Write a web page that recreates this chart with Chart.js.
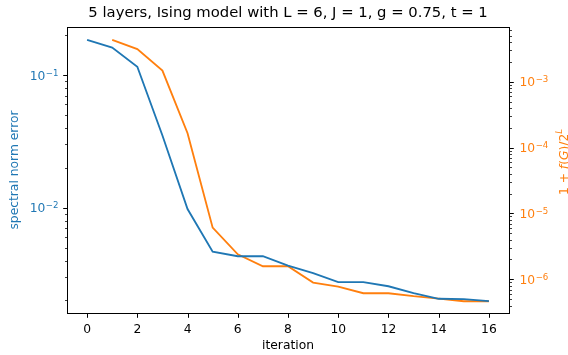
<!DOCTYPE html>
<html>
<head>
<meta charset="utf-8">
<script src="https://cdn.jsdelivr.net/npm/chart.js"></script>
<style>
  html, body { margin: 0; padding: 0; background: #fff; }
</style>
</head>
<body>
<canvas id="chart" width="568" height="355"></canvas>
<script>
const FONT = "'DejaVu Sans', sans-serif";
const BLUE = "#1f77b4";
const ORANGE = "#ff7f0e";

// data
const iterations = [0, 1, 2, 3, 4, 5, 6, 7, 8, 9, 10, 11, 12, 13, 14, 15, 16];
const normError = [0.184, 0.161, 0.1155, 0.035, 0.00977, 0.00466, 0.00431, 0.00431, 0.00366,
                   0.00321, 0.00275, 0.00275, 0.00256, 0.00227, 0.00206, 0.00205, 0.00198];
const fidelityIters = [1, 2, 3, 4, 5, 6, 7, 8, 9, 10, 11, 12, 13, 14, 15, 16];
const fidelity = [4.30e-3, 3.13e-3, 1.47e-3, 1.65e-4, 6.09e-6, 2.40e-6, 1.58e-6, 1.58e-6,
                  8.91e-7, 7.75e-7, 6.15e-7, 6.15e-7, 5.54e-7, 5.10e-7, 4.65e-7, 4.65e-7];

const xTicks = [0, 2, 4, 6, 8, 10, 12, 14, 16];
const leftExponents = [-2, -1];
const rightExponents = [-6, -5, -4, -3];

const TITLE = "5 layers, Ising model with L = 6, J = 1, g = 0.75, t = 1";
const X_TITLE = "iteration";
const LEFT_TITLE = "spectral norm error";

// every 1..9 x 10^e inside the axis range (tick marks only)
function logTickValues(min, max) {
  const out = [];
  for (let e = Math.floor(Math.log10(min)); e <= Math.ceil(Math.log10(max)); e++) {
    for (let m = 1; m <= 9; m++) {
      const v = m * Math.pow(10, e);
      if (v >= min && v <= max) out.push({ v, major: m === 1 });
    }
  }
  return out;
}

function drawPower(ctx, exp, x, y, align, color) {
  const big = "12.3px " + FONT;
  const small = "8.6px " + FONT;
  const sup = "\u2212" + Math.abs(exp);
  ctx.font = big;
  const w1 = ctx.measureText("10").width;
  ctx.font = small;
  const w2 = ctx.measureText(sup).width;
  const x0 = align === "right" ? x - w1 - w2 : x;
  ctx.fillStyle = color;
  ctx.textAlign = "left";
  ctx.textBaseline = "alphabetic";
  ctx.font = big;
  ctx.fillText("10", x0, y + 4.6);
  ctx.font = small;
  ctx.fillText(sup, x0 + w1 + 0.5, y + 0.6);
}

function drawLogAxis(ctx, scale, xEdge, dir, exps, color) {
  ctx.strokeStyle = "#000";
  logTickValues(scale.min, scale.max).forEach(t => {
    const py = Math.round(scale.getPixelForValue(t.v)) + 0.5;
    ctx.lineWidth = t.major ? 1 : 0.75;
    const len = t.major ? 4.3 : 2.5;
    ctx.beginPath();
    ctx.moveTo(xEdge, py);
    ctx.lineTo(xEdge + dir * len, py);
    ctx.stroke();
  });
  exps.forEach(e => {
    const py = scale.getPixelForValue(Math.pow(10, e));
    if (dir < 0) drawPower(ctx, e, xEdge - 9.5, py, "right", color);
    else drawPower(ctx, e, xEdge + 10, py, "left", color);
  });
}

const decorations = {
  id: "decorations",
  afterDraw(chart) {
    const { ctx, chartArea: a, scales } = chart;
    ctx.save();
    const L = Math.round(a.left) + 0.5, R = Math.round(a.right) + 0.5;
    const T = Math.round(a.top) + 0.5, B = Math.round(a.bottom) + 0.5;

    // frame
    ctx.strokeStyle = "#000";
    ctx.lineWidth = 1;
    ctx.strokeRect(L, T, R - L, B - T);

    // x tick marks
    xTicks.forEach(v => {
      const px = Math.round(scales.x.getPixelForValue(v)) + 0.5;
      ctx.beginPath();
      ctx.moveTo(px, B);
      ctx.lineTo(px, B + 4.3);
      ctx.stroke();
    });

    drawLogAxis(ctx, scales.yL, L, -1, leftExponents, BLUE);
    drawLogAxis(ctx, scales.yR, R, 1, rightExponents, ORANGE);

    const cx = (a.left + a.right) / 2;
    ctx.fillStyle = "#000";
    ctx.textAlign = "center";
    ctx.textBaseline = "middle";
    ctx.font = "14.8px " + FONT;
    ctx.fillText(TITLE, cx, 13);

    ctx.font = "12.3px " + FONT;
    ctx.fillText(X_TITLE, cx, 346);

    // left axis title
    ctx.save();
    ctx.translate(15, (a.top + a.bottom) / 2);
    ctx.rotate(-Math.PI / 2);
    ctx.fillStyle = BLUE;
    ctx.fillText(LEFT_TITLE, 0, 0);
    ctx.restore();

    // right axis title: 1 + f(G)/2^L
    const parts = [
      { t: "1 + ", it: false },
      { t: "f", it: true },
      { t: "(", it: false },
      { t: "G", it: true },
      { t: ")/2", it: false },
      { t: "L", it: true, sup: true }
    ];
    const fontOf = p => (p.it ? "italic " : "") + (p.sup ? "8.6px " : "12.3px ") + FONT;
    let total = 0;
    parts.forEach(p => { ctx.font = fontOf(p); p.w = ctx.measureText(p.t).width; total += p.w; });
    ctx.save();
    ctx.translate(563, 162);
    ctx.rotate(-Math.PI / 2);
    ctx.fillStyle = ORANGE;
    ctx.textAlign = "left";
    ctx.textBaseline = "alphabetic";
    let x = -total / 2;
    parts.forEach(p => {
      ctx.font = fontOf(p);
      ctx.fillText(p.t, x, p.sup ? -1 : 4.5);
      x += p.w;
    });
    ctx.restore();

    ctx.restore();
  }
};

new Chart(document.getElementById("chart"), {
  type: "line",
  data: {
    datasets: [
      {
        label: "spectral norm error",
        data: iterations.map((x, i) => ({ x, y: normError[i] })),
        borderColor: BLUE,
        borderWidth: 1.85,
        pointRadius: 0,
        fill: false,
        tension: 0,
        yAxisID: "yL"
      },
      {
        label: "1 + f(G)/2^L",
        data: fidelityIters.map((x, i) => ({ x, y: fidelity[i] })),
        borderColor: ORANGE,
        borderWidth: 1.85,
        pointRadius: 0,
        fill: false,
        tension: 0,
        yAxisID: "yR"
      }
    ]
  },
  options: {
    responsive: false,
    animation: false,
    layout: { padding: { top: 27, left: 0, right: 0, bottom: 0 } },
    plugins: { legend: { display: false }, tooltip: { enabled: false }, title: { display: false } },
    scales: {
      x: {
        type: "linear",
        min: -0.8,
        max: 16.8,
        afterBuildTicks(s) { s.ticks = xTicks.map(v => ({ value: v })); },
        afterFit(s) { s.height = 42; },
        ticks: { autoSkip: false, maxRotation: 0, padding: 9, color: "#000", font: { family: FONT, size: 12.3 } },
        grid: { display: false, drawTicks: false },
        border: { display: false }
      },
      yL: {
        type: "logarithmic",
        position: "left",
        min: 1.61e-3,
        max: 0.230,
        afterFit(s) { s.width = 67; },
        ticks: { display: false },
        grid: { display: false, drawTicks: false },
        border: { display: false }
      },
      yR: {
        type: "logarithmic",
        position: "right",
        min: 3.08e-7,
        max: 6.76e-3,
        afterFit(s) { s.width = 59; },
        ticks: { display: false },
        grid: { display: false, drawTicks: false },
        border: { display: false }
      }
    }
  },
  plugins: [decorations]
});
</script>
</body>
</html>
